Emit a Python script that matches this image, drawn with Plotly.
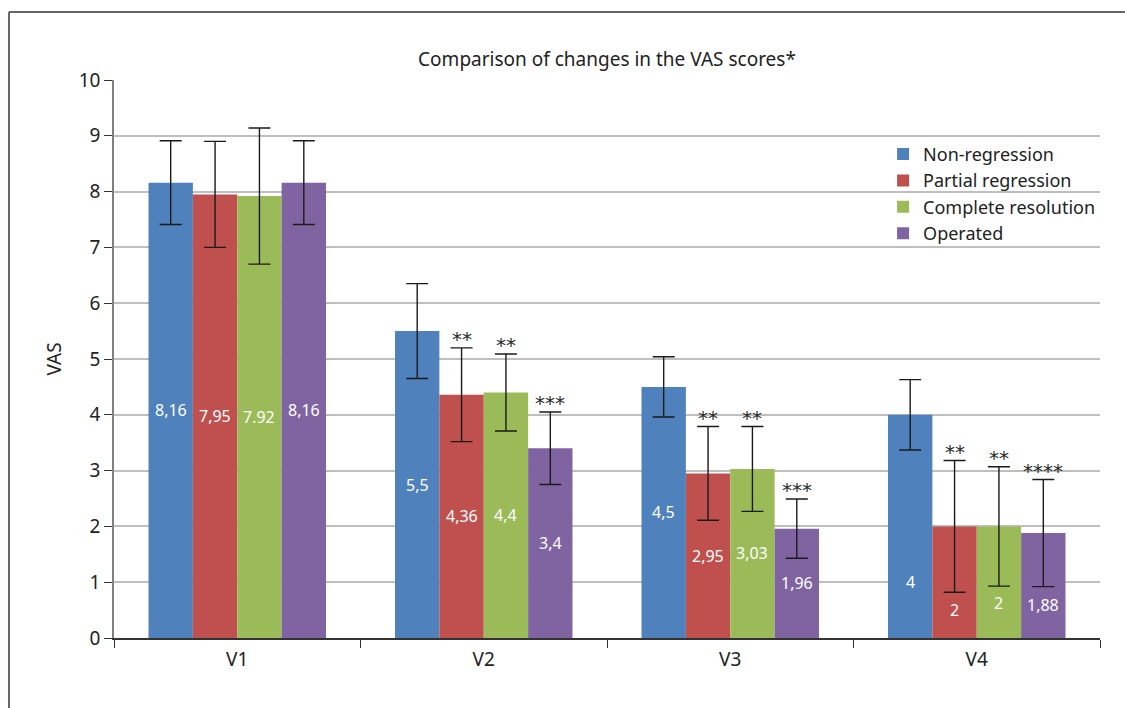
import plotly.graph_objects as go

visits = ["V1", "V2", "V3", "V4"]
groups = ["Non-regression", "Partial regression", "Complete resolution", "Operated"]
colors = ["#4F81BD", "#C0504D", "#9BBB59", "#8064A2"]

# mean VAS per group, one entry per visit
non_regression = [8.16, 5.5, 4.5, 4.0]
partial_regression = [7.95, 4.36, 2.95, 2.0]
complete_resolution = [7.92, 4.4, 3.03, 2.0]
operated = [8.16, 3.4, 1.96, 1.88]

# standard deviations
sd_non_regression = [0.75, 0.85, 0.54, 0.63]
sd_partial_regression = [0.95, 0.84, 0.84, 1.18]
sd_complete_resolution = [1.22, 0.69, 0.76, 1.07]
sd_operated = [0.75, 0.65, 0.53, 0.96]

# printed value labels
lbl_non_regression = ["8,16", "5,5", "4,5", "4"]
lbl_partial_regression = ["7,95", "4,36", "2,95", "2"]
lbl_complete_resolution = ["7.92", "4,4", "3,03", "2"]
lbl_operated = ["8,16", "3,4", "1,96", "1,88"]

# significance markers
sig_non_regression = ["", "", "", ""]
sig_partial_regression = ["", "**", "**", "**"]
sig_complete_resolution = ["", "**", "**", "**"]
sig_operated = ["", "***", "***", "****"]

means = [non_regression, partial_regression, complete_resolution, operated]
sds = [sd_non_regression, sd_partial_regression, sd_complete_resolution, sd_operated]
labels = [lbl_non_regression, lbl_partial_regression, lbl_complete_resolution, lbl_operated]
sigs = [sig_non_regression, sig_partial_regression, sig_complete_resolution, sig_operated]

# vertical placement of value labels, as a fraction of the bar height
# (lowered in the last column to stay clear of the error whiskers)
label_frac = [
    [0.5, 0.5, 0.5, 0.25],
    [0.5, 0.5, 0.5, 0.25],
    [0.5, 0.5, 0.5, 0.31],
    [0.5, 0.5, 0.5, 0.31],
]

BARGAP = 0.28
bar_w = (1 - BARGAP) / len(groups)

fig = go.Figure()
for g, name in enumerate(groups):
    fig.add_trace(go.Bar(
        name=name, x=visits, y=means[g],
        marker=dict(color=colors[g], line=dict(width=0)),
        error_y=dict(type="data", array=sds[g], visible=True,
                     color="#1a1a1a", thickness=1.4, width=11),
        cliponaxis=False,
    ))

annotations = []
for g in range(len(groups)):
    for i, v in enumerate(visits):
        xc = i + (g - 1.5) * bar_w
        annotations.append(dict(
            x=xc, y=means[g][i] * label_frac[g][i], xref="x", yref="y",
            text=labels[g][i], showarrow=False,
            xanchor="center", yanchor="middle",
            font=dict(size=16, color="white", family="Noto Sans"),
        ))
        s = sigs[g][i]
        if s:
            annotations.append(dict(
                x=xc, y=means[g][i] + sds[g][i], xref="x", yref="y",
                text=s, showarrow=False, yanchor="bottom", yshift=-5,
                font=dict(size=20, color="#2a2a2a", family="DejaVu Sans"),
            ))

fig.update_layout(
    width=1125, height=708,
    margin=dict(l=114, r=25, t=80, b=70),
    paper_bgcolor="white", plot_bgcolor="white",
    barmode="group", bargap=BARGAP, bargroupgap=0,
    font=dict(family="Noto Sans", color="#222222"),
    title=dict(text="Comparison of changes in the VAS scores*",
               x=(607 / 1125), xanchor="center", y=1 - 59 / 708, yanchor="middle",
               font=dict(size=19, color="#222222")),
    legend=dict(x=0.78, y=0.9, xanchor="left", yanchor="top",
                font=dict(size=18, color="#222222"),
                bgcolor="rgba(0,0,0,0)", tracegroupgap=0, itemwidth=30),
    showlegend=True,
    annotations=annotations,
    shapes=[
        dict(type="line", xref="paper", yref="paper",
             x0=-0.1065, x1=1.03, y0=1.1219, y1=1.1219,
             line=dict(color="#666666", width=2)),
        dict(type="line", xref="paper", yref="paper",
             x0=-0.1065, x1=-0.1065, y0=1.1219, y1=-0.13,
             line=dict(color="#666666", width=2)),
    ],
)

fig.update_xaxes(
    type="category", range=[-0.5, 3.5],
    showline=True, linecolor="#333333", linewidth=1.5,
    ticks="outside", tickson="boundaries", ticklen=8, tickcolor="#333333",
    tickfont=dict(size=19, color="#222222"), ticklabelstandoff=3,
    showgrid=False,
)
fig.update_yaxes(
    range=[0, 10], dtick=1,
    title=dict(text="VAS", font=dict(size=19, color="#222222"), standoff=12),
    showline=True, linecolor="#808080", linewidth=1.5,
    ticks="outside", ticklen=8, tickcolor="#333333",
    tickfont=dict(size=19, color="#222222"),
    showgrid=True, gridcolor="#BFBFBF", gridwidth=1.5,
    zeroline=False,
)

fig.write_html("out.html")
